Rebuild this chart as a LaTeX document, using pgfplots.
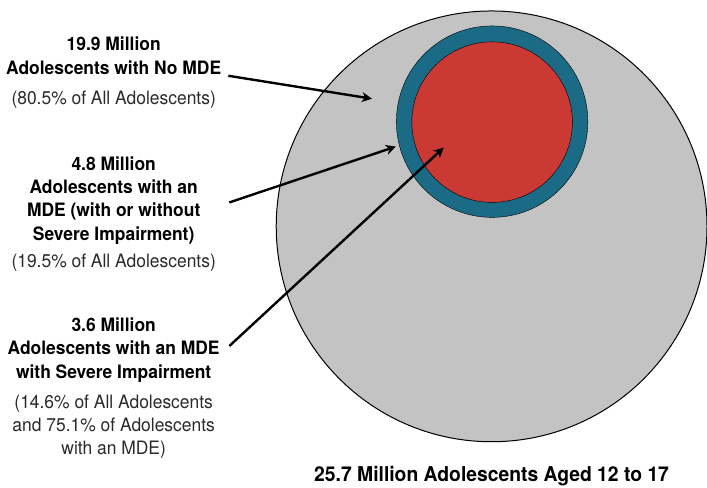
\documentclass[border=0pt]{standalone}
\usepackage{fontspec}
\setmainfont{TeX Gyre Heros}[FakeStretch=0.945]
\usepackage{pgfplots}
\pgfplotsset{compat=1.18}
\usetikzlibrary{arrows.meta}
\definecolor{cgray}{HTML}{C3C3C3}
\definecolor{cblue}{HTML}{1B6A86}
\definecolor{cred}{HTML}{CB3935}
\definecolor{ctext}{HTML}{2A2A2A}
\newcommand{\bl}[2]{\node[font=\fontsize{18.5}{22}\selectfont\bfseries, anchor=base] at (axis cs:114,#1) {#2};}
\newcommand{\rl}[2]{\node[font=\fontsize{18.5}{22}\selectfont, text=ctext, anchor=base] at (axis cs:114,#1) {#2};}
\begin{document}
\begin{tikzpicture}
\begin{axis}[
  set layers,
  width=707pt, height=489pt, scale only axis,
  xmin=0, xmax=707, ymin=0, ymax=489, y dir=reverse,
  axis line style={draw=none}, xtick=\empty, ytick=\empty,
  clip=true,
]
% circles: center x, y; radius in px (mark size)
\addplot[only marks, mark=*, mark size=216pt, mark options={fill=cgray, draw=black, line width=1pt}] coordinates {(493,227)};
\addplot[only marks, mark=*, mark size=96pt, mark options={fill=cblue, draw=none}] coordinates {(493.5,122)};
\addplot[only marks, mark=*, mark size=80.5pt, mark options={fill=cred, draw=none}] coordinates {(493.5,122.5)};
% arrows
\addplot[on layer=axis foreground, black, line width=2.4pt, -{Stealth[length=10pt,width=10pt,inset=3pt]}] coordinates {(229,76) (373,99)};
\addplot[on layer=axis foreground, black, line width=2.4pt, -{Stealth[length=10pt,width=10pt,inset=3pt]}] coordinates {(230,203) (397,147)};
\addplot[on layer=axis foreground, black, line width=2.4pt, -{Stealth[length=10pt,width=10pt,inset=3pt]}] coordinates {(230,347) (445,148)};
% texts
\bl{50.7}{19.9 Million}
\bl{74.3}{Adolescents with No MDE}
\rl{105}{(80.5\% of All Adolescents)}
\bl{170.7}{4.8 Million}
\bl{194}{Adolescents with an}
\bl{217.3}{MDE (with or without}
\bl{240.7}{Severe Impairment)}
\rl{268}{(19.5\% of All Adolescents)}
\bl{332.7}{3.6 Million}
\bl{356}{Adolescents with an MDE}
\bl{379.3}{with Severe Impairment}
\rl{409.5}{(14.6\% of All Adolescents}
\rl{432.7}{and 75.1\% of Adolescents}
\rl{456}{with an MDE)}
\node[font=\fontsize{20.5}{24}\selectfont\bfseries, anchor=base] at (axis cs:493,482.7) {25.7 Million Adolescents Aged 12 to 17};
\end{axis}
\end{tikzpicture}
\end{document}
